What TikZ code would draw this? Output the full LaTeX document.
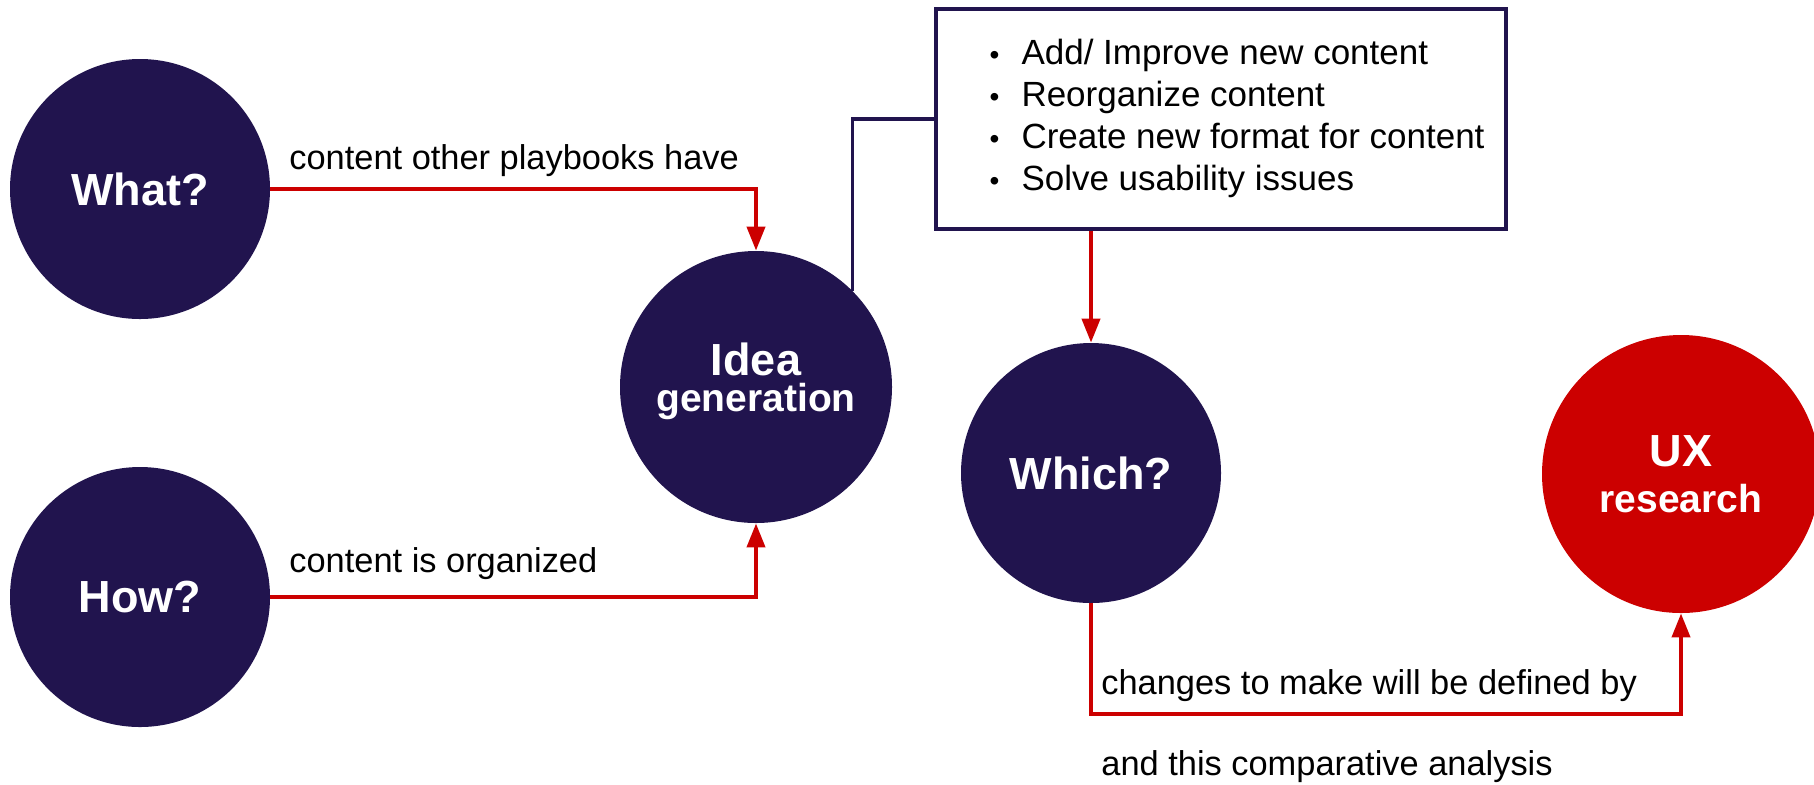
\documentclass[tikz,border=0pt]{standalone}
\usepackage{fontspec}
\setmainfont{Liberation Sans}
\usepackage{tikz}
\usetikzlibrary{arrows.meta,
                calc,
                positioning}
\definecolor{navy}{RGB}{33,20,78}
\definecolor{flowred}{RGB}{204,0,0}
\newcommand{\dotitem}{\makebox[16pt][l]{\fontsize{14pt}{14pt}\selectfont\textbullet}}
\tikzset{
	%Define standard arrow tip
	>={Triangle[length=12pt,width=9pt]},
	%Define style for circles
	bubble/.style={
	       circle,
	       fill=navy,
	       text=white,
	       minimum size=130pt,
	       inner sep=0pt,
	       align=center,
	       font=\bfseries\fontsize{22.5pt}{27pt}\selectfont},
	%Define style for the list box
	listbox/.style={
	       rectangle,
	       draw=navy, line width=1.6pt,
	       fill=white,
	       minimum width=285pt,
	       minimum height=110pt,
	       inner sep=0pt,
	       font=\fontsize{17.5pt}{21pt}\selectfont},
	%Define style for edge texts
	lbl/.style={
	       anchor=base west,
	       inner sep=0pt,
	       font=\fontsize{17.2pt}{20pt}\selectfont},
	% Define arrow styles
	flow/.style={
	       ->,
	       draw=flowred,
	       line width=2pt},
	link/.style={
	       draw=navy,
	       line width=1.6pt}
}
\begin{document}
\begin{tikzpicture}[x=0.5pt, y=-0.5pt] % one unit is one pixel of the sketch
		\useasboundingbox (0,0) rectangle (1814,784);
		\node[bubble](what) at (140,189){What?};
		\node[bubble](how) at (140,597){How?};
		\node[bubble, minimum size=136pt](idea_gen) at (756,387){};
		\node[align=center, text=white, inner sep=0pt, font=\bfseries\fontsize{22.5pt}{27pt}\selectfont, yshift=3pt](idea_txt) at (idea_gen){Idea\\[-9pt]{\fontsize{19.5pt}{20pt}\selectfont generation}};
		\node[bubble](which) at (1091,473){Which?};
		\node[bubble, fill=flowred, minimum size=139pt](ux_research) at (1681,474){UX\\[-4pt]{\fontsize{19.5pt}{20pt}\selectfont research}};
		\node[listbox](change_list) at (1221,119){%
		\begin{tabular}{@{\hspace{16pt}}l@{}l@{}}
		\dotitem & Add/ Improve new content\\
		\dotitem & Reorganize content\\
		\dotitem & Create new format for content\\
		\dotitem & Solve usability issues
		\end{tabular}};
		% edge texts
		\node[lbl](what_lbl) at (289,169){content other playbooks have};
		\node[lbl](how_lbl) at (289,572){content is organized};
		\node[lbl](which_lbl) at (1101,694){changes to make will be defined by};
		\node[lbl](which_lbl2) at (1101,775){and this comparative analysis};
		% connectors
		\draw[flow] (what.east) -| (idea_gen.north);
		\draw[flow] (how.east) -| (idea_gen.south);
		\draw[link] (idea_gen.north east) |- (change_list.west);
		\draw[flow] (which.north |- change_list.south) -- (which.north);
		\coordinate (low) at (1400,714);
		\draw[flow] (which.south) -- (which.south |- low) -| (ux_research.south);
	\end{tikzpicture}
\end{document}
